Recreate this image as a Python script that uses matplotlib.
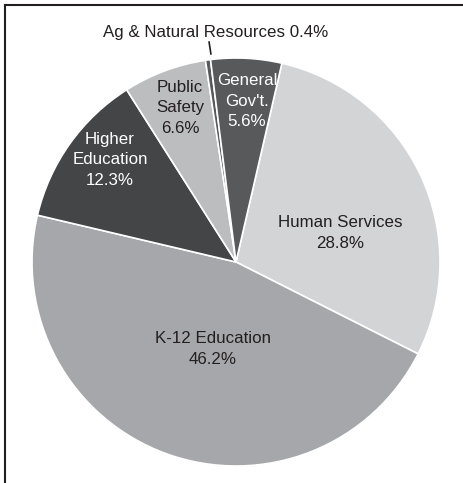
import matplotlib
matplotlib.use("Agg")
import matplotlib.pyplot as plt
from matplotlib.lines import Line2D

# slices, clockwise from the top
labels = ["Human Services", "K-12 Education", "Higher\nEducation", "Public\nSafety",
          "Ag & Natural Resources", "General\nGov't."]
shares = [28.8, 46.2, 12.3, 6.6, 0.4, 5.6]
colors = ["#d3d4d6", "#a6a7aa", "#444546", "#bcbdbf", "#58595b", "#58595b"]
text_colors = ["#231f20", "#231f20", "white", "#231f20", "#231f20", "white"]

# where each label sits (in pie radius units)
label_xy = [(0.51, 0.142), (-0.113, -0.426), (-0.618, 0.50), (-0.275, 0.755),
            (-0.098, 1.127), (0.054, 0.789)]

plt.rcParams["font.family"] = ["Liberation Sans", "DejaVu Sans"]

W, H = 463, 483
fig = plt.figure(figsize=(W / 100, H / 100), dpi=100)
cx, cy, r = 236, 262, 204
ax = fig.add_axes([(cx - r) / W, (H - cy - r) / H, 2 * r / W, 2 * r / H])

ax.pie(shares, colors=colors, startangle=77, counterclock=False,
       wedgeprops=dict(edgecolor="white", linewidth=1.2))
ax.set_xlim(-1, 1)
ax.set_ylim(-1, 1)
ax.set_aspect("equal")
ax.axis("off")

for lab, val, (x, y), tc in zip(labels, shares, label_xy, text_colors):
    if lab.startswith("Ag"):
        txt = f"{lab} {val}%"
    else:
        txt = f"{lab}\n{val}%"
    ax.text(x, y, txt, ha="center", va="center", fontsize=12.2, color=tc,
            linespacing=1.45)

# leader for the tiny slice
ax.plot([-0.132, -0.123], [1.078, 1.02], color="#231f20", lw=1.2, clip_on=False)

# frame (top and left edges only)
fig.add_artist(Line2D([5 / W, 1], [1 - 5 / H, 1 - 5 / H], color="#231f20", lw=1.5))
fig.add_artist(Line2D([5 / W, 5 / W], [0, 1 - 5 / H], color="#231f20", lw=1.5))

fig.savefig("out.png", dpi=100)
